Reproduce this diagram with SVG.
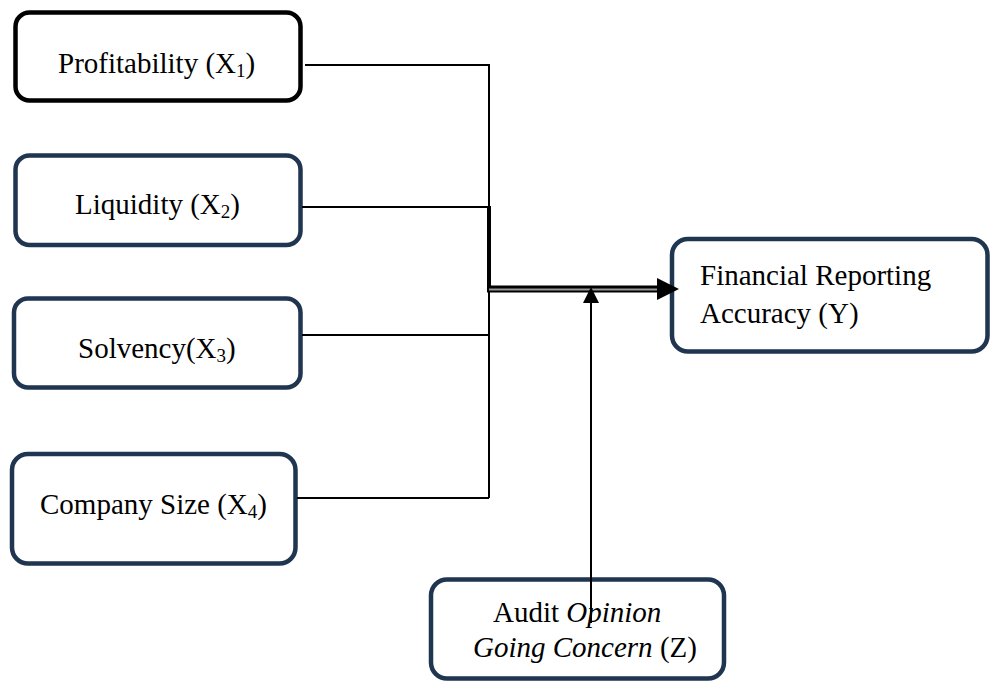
<svg xmlns="http://www.w3.org/2000/svg" width="990" height="681" viewBox="0 0 990 681">
<style>
.box{fill:#fff;stroke:#1f3550;stroke-width:4.5}
.blk{stroke:#000}
.t{font-family:"Liberation Serif","Times New Roman",serif;font-size:29px;fill:#000}
.sub{font-size:19px}
.ln{stroke:#000;stroke-width:2;fill:none}
</style>
<rect width="990" height="681" fill="#fff"/>
<g id="x1">
<rect class="box blk" x="15.5" y="12.5" width="285" height="88" rx="14"/>
<text class="t" x="58" y="73">Profitability (X<tspan class="sub" dy="4">1</tspan><tspan dy="-4">)</tspan></text>
</g>
<g id="x2">
<rect class="box" x="15.5" y="155.5" width="285" height="89.5" rx="14"/>
<text class="t" x="75" y="214">Liquidity (X<tspan class="sub" dy="4">2</tspan><tspan dy="-4">)</tspan></text>
</g>
<g id="x3">
<rect class="box" x="14" y="298.5" width="286.5" height="89" rx="14"/>
<text class="t" x="78" y="358">Solvency(X<tspan class="sub" dy="4">3</tspan><tspan dy="-4">)</tspan></text>
</g>
<g id="x4">
<rect class="box" x="12" y="454" width="283.5" height="109.5" rx="16"/>
<text class="t" x="40" y="514">Company Size (X<tspan class="sub" dy="4">4</tspan><tspan dy="-4">)</tspan></text>
</g>
<g id="y">
<rect class="box" x="672" y="239" width="315.5" height="112.5" rx="16"/>
<text class="t" x="700" y="285">Financial Reporting</text>
<text class="t" x="700" y="323">Accuracy (Y)</text>
</g>
<g id="z">
<rect class="box" x="431" y="579.5" width="293" height="99" rx="16"/>
<text class="t" x="493" y="622">Audit <tspan font-style="italic">Opinion</tspan></text>
<text class="t" x="473" y="657"><tspan font-style="italic">Going Concern</tspan> (Z)</text>
</g>
<g id="connectors">
<polyline class="ln" points="305,65 489,65 489,498"/>
<line class="ln" x1="302" y1="207" x2="489" y2="207"/>
<line class="ln" x1="302" y1="335" x2="489" y2="335"/>
<line class="ln" x1="297" y1="498" x2="489" y2="498"/>
<line x1="489" y1="206" x2="489" y2="292" stroke="#000" stroke-width="4"/>
<line x1="487" y1="289" x2="662" y2="289" stroke="#000" stroke-width="7"/>
<line x1="489" y1="289.5" x2="660" y2="289.5" stroke="#999" stroke-width="2"/>
<polygon points="657,278 679,289 657,300" fill="#000"/>
<line class="ln" x1="591" y1="300" x2="591" y2="623"/>
<polygon points="591,287 583,303 599,303" fill="#000"/>
</g>
</svg>
